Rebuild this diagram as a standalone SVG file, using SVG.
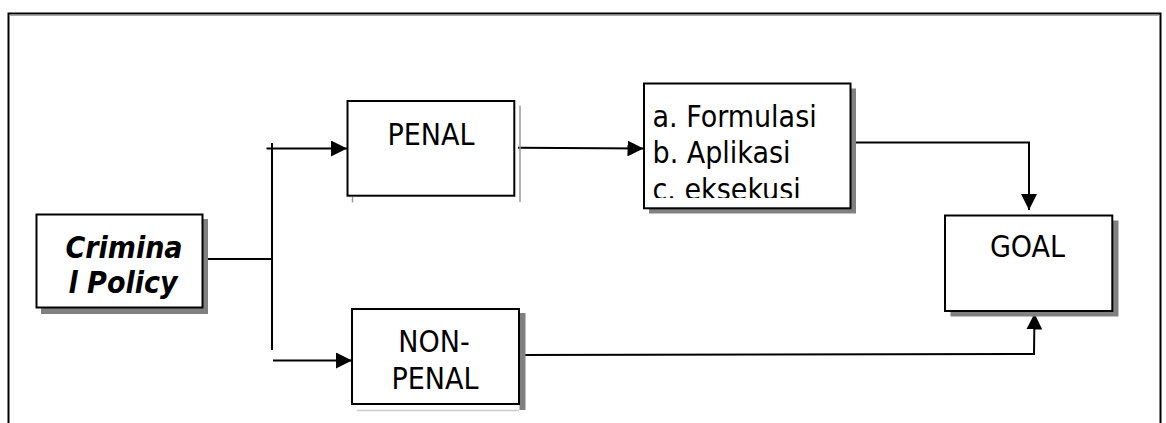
<svg xmlns="http://www.w3.org/2000/svg" width="1166" height="423" viewBox="0 0 1166 423">
<style>
.box{fill:#fff;stroke:#000;stroke-width:2}
.shadow{fill:#808080}
.t{font-family:'DejaVu Sans Condensed','DejaVu Sans',sans-serif;font-stretch:condensed;font-size:30px;fill:#000}
.c{stroke:#000;stroke-width:2;fill:none}
</style>
<defs>
<marker id="ah" viewBox="0 0 16 16" refX="16" refY="8" markerWidth="16" markerHeight="16" markerUnits="userSpaceOnUse" orient="auto">
<path d="M0,0 L16,8 L0,16 Z" fill="#000"/>
</marker>
<clipPath id="fclip"><rect x="644" y="84" width="206" height="114"/></clipPath>
</defs>
<rect width="1166" height="423" fill="#fff"/>
<g id="frame">
<path d="M8.5,423 V13.5 H1160.5 V423" fill="none" stroke="#000" stroke-width="2"/>
<line x1="9.5" y1="15.5" x2="1159.5" y2="15.5" stroke="#aaa" stroke-width="1"/>
</g>
<g id="connectors">
<line class="c" x1="202.5" y1="259" x2="271" y2="259"/>
<line class="c" x1="272" y1="143" x2="272" y2="350"/>
<line class="c" x1="266.5" y1="148.5" x2="347" y2="148.5" marker-end="url(#ah)"/>
<line class="c" x1="273" y1="360.5" x2="352" y2="360.5" marker-end="url(#ah)"/>
<line class="c" x1="518" y1="147.7" x2="643.5" y2="148.5" marker-end="url(#ah)"/>
<polyline class="c" points="848,142.5 1029,142.5 1029,210" marker-end="url(#ah)"/>
<polyline class="c" points="519,355 1034,354 1034.5,313.5" marker-end="url(#ah)"/>
</g>
<g id="criminal-policy">
<rect class="shadow" x="41" y="219" width="167" height="95"/>
<rect class="box" x="36.5" y="214.5" width="166" height="93"/>
<text class="t" x="124" y="258" text-anchor="middle" font-weight="bold" font-style="italic" font-size="32">Crimina</text>
<text class="t" x="123" y="292.5" text-anchor="middle" font-weight="bold" font-style="italic" font-size="32">l Policy</text>
</g>
<g id="penal">
<line x1="520" y1="105.5" x2="520" y2="202" stroke="#999" stroke-width="1.5"/>
<line x1="352.5" y1="197" x2="352.5" y2="202.5" stroke="#999" stroke-width="1.5"/>
<rect class="box" x="347.5" y="101" width="166.8" height="94.7"/>
<text class="t" x="431" y="145" text-anchor="middle">PENAL</text>
</g>
<g id="tahap">
<rect class="shadow" x="649" y="88.5" width="207" height="125"/>
<rect class="box" x="644" y="83.5" width="206.5" height="124.8"/>
<g clip-path="url(#fclip)">
<text class="t" x="652.5" y="126.5">a. Formulasi</text>
<text class="t" x="652.5" y="163.3">b. Aplikasi</text>
<text class="t" x="652.5" y="200">c. eksekusi</text>
</g>
</g>
<g id="non-penal">
<rect x="519.5" y="313" width="6" height="97" fill="#808080"/>
<line x1="357" y1="410.5" x2="519" y2="410.5" stroke="#ccc" stroke-width="1.5"/>
<rect class="box" x="352" y="309" width="167" height="95"/>
<text class="t" x="434" y="351.5" text-anchor="middle">NON-</text>
<text class="t" x="435" y="389" text-anchor="middle">PENAL</text>
</g>
<g id="goal">
<rect class="shadow" x="950.5" y="220.5" width="168" height="96"/>
<rect class="box" x="945" y="215.5" width="167.3" height="95.5"/>
<text class="t" x="1027.5" y="257" text-anchor="middle">GOAL</text>
</g>
</svg>
